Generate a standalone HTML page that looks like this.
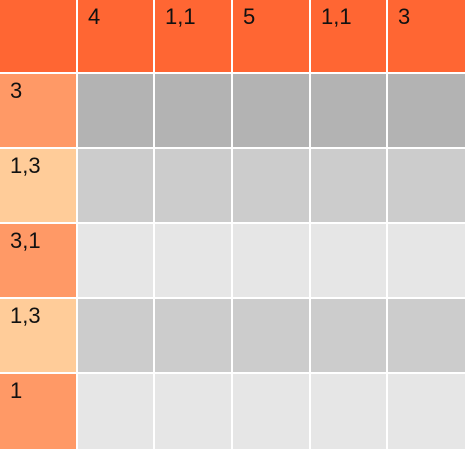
<!DOCTYPE html>
<html><head><meta charset="utf-8"><style>
html,body{margin:0;padding:0;background:#fff;}
#g{position:relative;width:465px;height:451px;overflow:hidden;font-family:"Liberation Sans",sans-serif;}
.c{position:absolute;box-sizing:border-box;font-size:22px;color:#111;padding:5px 0 0 10px;line-height:24px;}
</style></head><body>
<div id="g"></div>
<script>
const colClues=["4","1,1","5","1,1","3"];
const rowClues=["3","1,3","3,1","1,3","1"];
const rowShades=["#b3b3b3","#cccccc","#e6e6e6","#cccccc","#e6e6e6"];
const rowHeadColors=["#ff9966","#ffcc99","#ff9966","#ffcc99","#ff9966"];
const xs=[0,78,155,233,311,388,467];
const ys=[0,74,149,224,299,374,451];
const g=document.getElementById('g');
function cell(x0,y0,x1,y1,bg,txt,name){
  const d=document.createElement('div');
  d.className='c';
  d.style.left=x0+'px';d.style.top=y0+'px';
  d.style.width=(x1-x0-2)+'px';d.style.height=(y1-y0-2)+'px';
  d.style.background=bg;
  if(txt)d.textContent=txt;
  
  
  g.appendChild(d);
}
cell(xs[0],ys[0],xs[1],ys[1],'#ff6633','','corner-cell');
colClues.forEach((t,i)=>cell(xs[i+1],ys[0],xs[i+2],ys[1],'#ff6633',t,'column-clue'));
rowClues.forEach((t,r)=>{
  cell(xs[0],ys[r+1],xs[1],ys[r+2],rowHeadColors[r],t,'row-clue');
  for(let c=0;c<colClues.length;c++){
    const d=document.createElement('div');
    d.className='c';
    d.style.left=xs[c+1]+'px';d.style.top=ys[r+1]+'px';
    d.style.width=(xs[c+2]-xs[c+1]-2)+'px';d.style.height=(ys[r+2]-ys[r+1]-2)+'px';
    d.style.background=rowShades[r];
    
    
    g.appendChild(d);
  }
});
</script>
</body></html>
